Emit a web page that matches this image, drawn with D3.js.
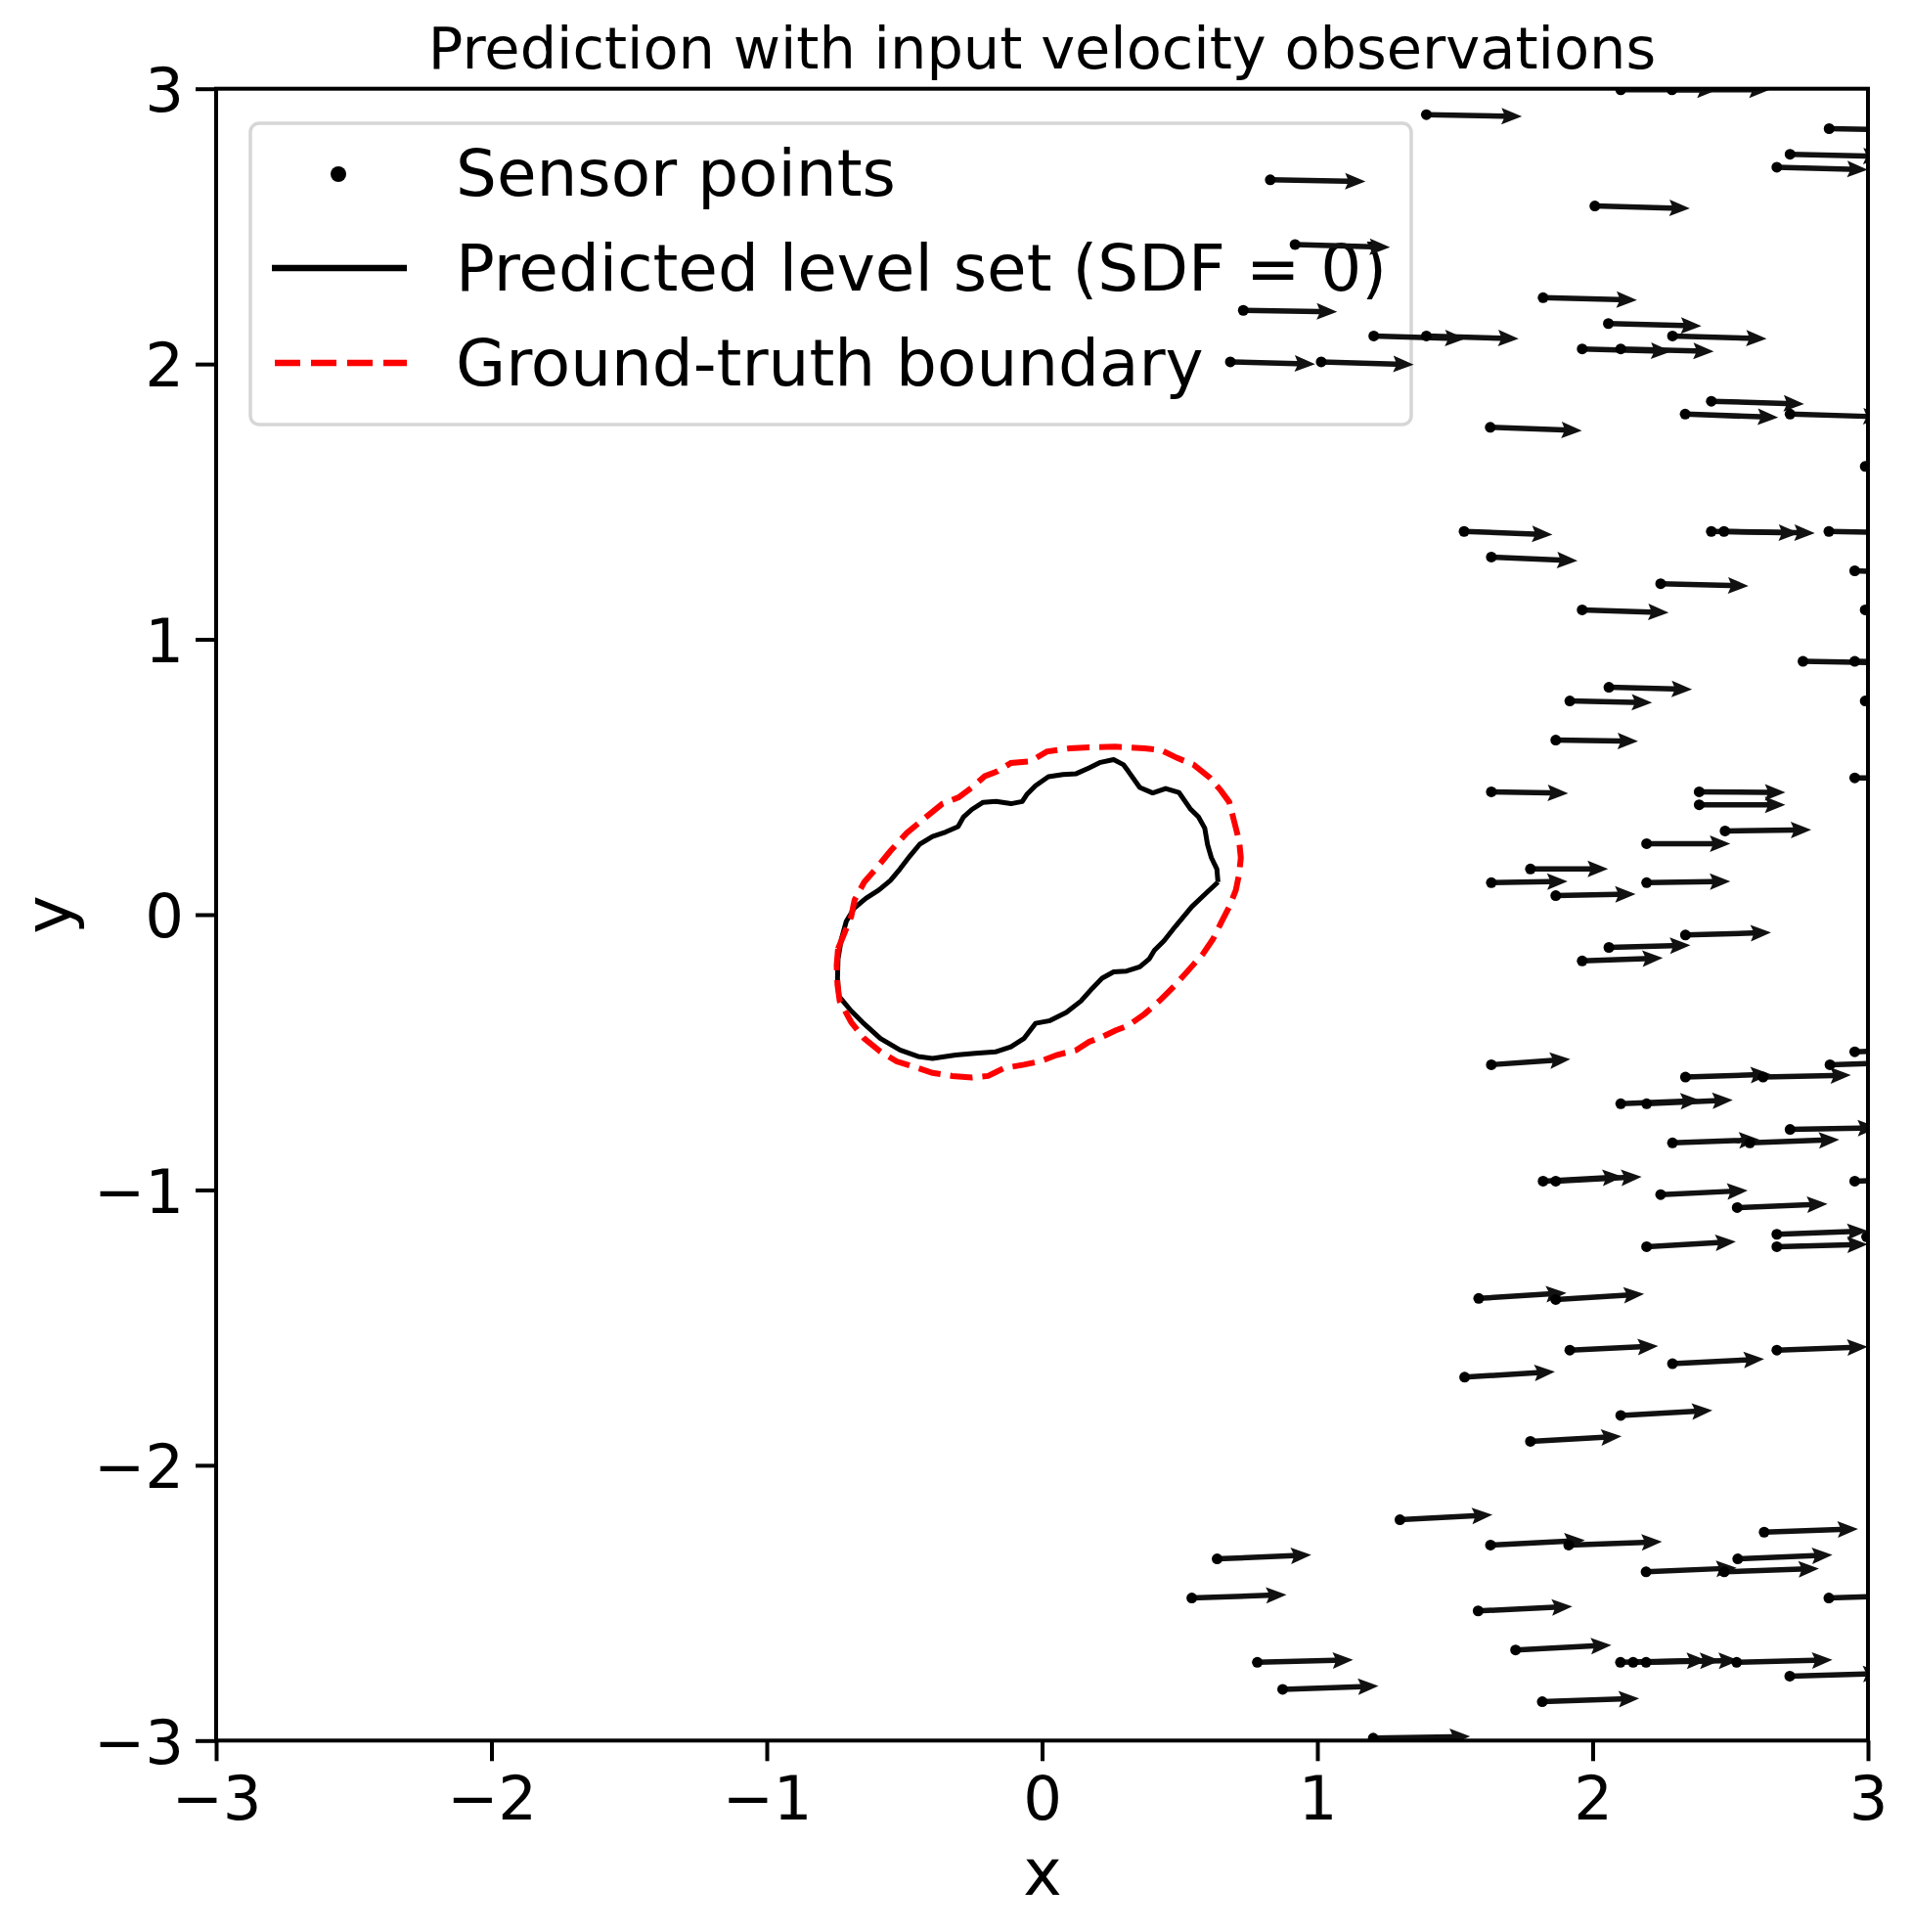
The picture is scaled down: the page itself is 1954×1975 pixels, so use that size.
<html>
<head>
<meta charset="utf-8">
<script src="https://d3js.org/d3.v7.min.js"></script>
<style>
  body { margin: 0; background: #fff; }
  text { font-family: "DejaVu Sans", sans-serif; fill: #000; }
</style>
</head>
<body>
<svg id="chart" width="1954" height="1975"></svg>
<script>
// sensor locations (tail of each arrow) and arrow components, data units
var sensorX = [1.396, 2.102, 2.288, 2.859, 2.717, 2.669, 0.829, 2.008, 0.919, 0.731,
  1.820, 2.057, 1.205, 1.396, 2.290, 0.684, 1.014, 1.962, 2.102, 2.431,
  2.336, 2.717, 1.628, 2.990, 1.533, 2.431, 2.477, 2.858, 1.632, 2.952,
  2.247, 1.962, 2.990, 2.764, 2.952, 2.059, 1.917, 2.990, 1.866, 2.952,
  1.632, 2.387, 2.387, 2.481, 2.196, 1.774, 1.632, 2.196, 1.866, 2.337,
  2.059, 1.962, 1.632, 2.952, 2.862, 2.337, 2.619, 2.102, 2.196, 2.717,
  2.290, 2.571, 1.820, 1.866, 2.952, 2.247, 2.525, 2.669, 2.669, 2.995,
  2.196, 1.586, 1.866, 1.917, 2.290, 2.669, 1.535, 2.102, 1.774, 1.300,
  0.636, 1.629, 1.913, 2.623, 2.527, 2.194, 2.478, 0.544, 1.584, 2.858,
  0.782, 1.720, 2.101, 2.147, 2.194, 2.523, 2.716, 0.874, 1.817, 1.203];
var sensorY = [2.906, 2.996, 2.996, 2.855, 2.762, 2.715, 2.669, 2.574, 2.434, 2.195,
  2.241, 2.147, 2.102, 2.102, 2.102, 2.008, 2.008, 2.055, 2.055, 1.865,
  1.818, 1.818, 1.770, 1.628, 1.392, 1.392, 1.392, 1.392, 1.299, 1.249,
  1.202, 1.107, 1.107, 0.920, 0.920, 0.826, 0.776, 0.776, 0.634, 0.497,
  0.446, 0.446, 0.399, 0.304, 0.258, 0.166, 0.116, 0.116, 0.069, -0.074,
  -0.119, -0.168, -0.545, -0.498, -0.545, -0.590, -0.590, -0.687, -0.687, -0.780,
  -0.829, -0.829, -0.968, -0.968, -0.968, -1.017, -1.064, -1.161, -1.206, -1.170,
  -1.206, -1.394, -1.398, -1.582, -1.631, -1.582, -1.680, -1.819, -1.913, -2.198,
  -2.340, -2.290, -2.290, -2.243, -2.340, -2.387, -2.387, -2.482, -2.529, -2.482,
  -2.716, -2.671, -2.716, -2.716, -2.716, -2.716, -2.766, -2.814, -2.859, -2.991];
var velU = [0.347, 0.352, 0.355, 0.340, 0.340, 0.330, 0.346, 0.345, 0.345, 0.341,
  0.341, 0.338, 0.333, 0.335, 0.342, 0.308, 0.336, 0.324, 0.338, 0.337,
  0.338, 0.340, 0.333, 0.330, 0.321, 0.319, 0.330, 0.330, 0.313, 0.330,
  0.319, 0.314, 0.320, 0.320, 0.320, 0.302, 0.299, 0.310, 0.299, 0.300,
  0.279, 0.313, 0.313, 0.313, 0.304, 0.282, 0.277, 0.304, 0.290, 0.311,
  0.296, 0.293, 0.287, 0.310, 0.310, 0.311, 0.319, 0.291, 0.313, 0.320,
  0.316, 0.325, 0.290, 0.312, 0.320, 0.316, 0.328, 0.330, 0.330, 0.330,
  0.324, 0.319, 0.321, 0.321, 0.333, 0.330, 0.328, 0.333, 0.331, 0.336,
  0.342, 0.343, 0.339, 0.341, 0.344, 0.329, 0.344, 0.344, 0.342, 0.340,
  0.348, 0.348, 0.315, 0.317, 0.338, 0.348, 0.340, 0.348, 0.352, 0.352];
var velV = [-0.007, 0.000, 0.000, -0.006, -0.008, -0.009, -0.006, -0.009, -0.010, -0.005,
  -0.009, -0.009, -0.010, -0.010, -0.010, -0.008, -0.010, -0.009, -0.009, -0.010,
  -0.012, -0.010, -0.012, -0.010, -0.012, -0.006, -0.006, -0.006, -0.014, -0.010,
  -0.008, -0.010, -0.008, -0.006, -0.006, -0.008, -0.006, -0.005, -0.004, -0.003,
  -0.005, -0.002, 0.000, 0.004, 0.000, 0.000, 0.005, 0.005, 0.006, 0.009,
  0.008, 0.011, 0.020, 0.010, 0.010, 0.010, 0.007, 0.012, 0.014, 0.006,
  0.012, 0.012, 0.016, 0.016, 0.012, 0.015, 0.013, 0.012, 0.009, 0.010,
  0.018, 0.020, 0.020, 0.015, 0.017, 0.012, 0.020, 0.018, 0.018, 0.018,
  0.014, 0.018, 0.012, 0.012, 0.014, 0.014, 0.012, 0.012, 0.016, 0.010,
  0.009, 0.018, 0.007, 0.007, 0.007, 0.009, 0.010, 0.012, 0.012, 0.006];

// predicted zero level set
var predX = [0.639, 0.635, 0.615, 0.601, 0.591, 0.568, 0.538, 0.497, 0.449, 0.402,
  0.355, 0.313, 0.295, 0.260, 0.212, 0.171, 0.124, 0.076, 0.023, -0.024,
  -0.054, -0.072, -0.113, -0.167, -0.214, -0.255, -0.285, -0.305, -0.350, -0.398,
  -0.445, -0.480, -0.516, -0.551, -0.593, -0.640, -0.682, -0.711, -0.729, -0.741,
  -0.743, -0.738, -0.693, -0.652, -0.587, -0.516, -0.451, -0.398, -0.314, -0.243,
  -0.167, -0.113, -0.066, -0.024, 0.029, 0.088, 0.141, 0.183, 0.218, 0.260,
  0.307, 0.355, 0.390, 0.408, 0.443, 0.485, 0.544, 0.597, 0.639];
var predY = [0.118, 0.166, 0.207, 0.255, 0.314, 0.355, 0.385, 0.444, 0.458, 0.442,
  0.462, 0.521, 0.545, 0.563, 0.553, 0.533, 0.512, 0.509, 0.501, 0.468,
  0.438, 0.411, 0.403, 0.411, 0.408, 0.382, 0.355, 0.320, 0.300, 0.284,
  0.255, 0.213, 0.166, 0.124, 0.089, 0.059, 0.024, -0.024, -0.089, -0.160,
  -0.231, -0.296, -0.350, -0.391, -0.450, -0.492, -0.515, -0.522, -0.510, -0.504,
  -0.498, -0.480, -0.450, -0.395, -0.385, -0.355, -0.314, -0.267, -0.231, -0.208,
  -0.205, -0.190, -0.160, -0.130, -0.095, -0.042, 0.029, 0.079, 0.118];

// ground-truth boundary
var truthX = [-0.741, -0.717, -0.693, -0.681, -0.646, -0.599, -0.551, -0.492, -0.421, -0.362,
  -0.303, -0.255, -0.208, -0.161, -0.113, -0.042, 0.017, 0.100, 0.171, 0.266,
  0.372, 0.432, 0.491, 0.550, 0.609, 0.650, 0.680, 0.698, 0.716, 0.722,
  0.716, 0.704, 0.680, 0.650, 0.621, 0.585, 0.538, 0.479, 0.432, 0.372,
  0.313, 0.266, 0.218, 0.171, 0.124, 0.053, -0.007, -0.066, -0.137, -0.196,
  -0.255, -0.326, -0.398, -0.469, -0.528, -0.587, -0.646, -0.693, -0.735, -0.743,
  -0.746, -0.741];
var truthY = [-0.124, -0.065, -0.006, 0.053, 0.118, 0.172, 0.231, 0.296, 0.355, 0.403,
  0.426, 0.462, 0.503, 0.521, 0.551, 0.557, 0.592, 0.604, 0.608, 0.610,
  0.604, 0.598, 0.569, 0.545, 0.498, 0.450, 0.409, 0.338, 0.267, 0.207,
  0.148, 0.089, 0.029, -0.030, -0.089, -0.142, -0.195, -0.261, -0.308, -0.361,
  -0.403, -0.421, -0.444, -0.462, -0.492, -0.510, -0.533, -0.545, -0.557, -0.586,
  -0.592, -0.586, -0.575, -0.551, -0.533, -0.498, -0.450, -0.391, -0.314, -0.255,
  -0.184, -0.124];

var tickValues = [-3, -2, -1, 0, 1, 2, 3];
var legendLabels = ["Sensor points", "Predicted level set (SDF = 0)", "Ground-truth boundary"];

var svg = d3.select("#chart");
var x = d3.scaleLinear().domain([-3, 3]).range([221, 1910]);
var y = d3.scaleLinear().domain([-3, 3]).range([1779.3, 90.7]);

svg.append("defs").append("clipPath").attr("id", "plotclip")
  .append("rect")
    .attr("x", x(-3)).attr("y", y(3))
    .attr("width", x(3) - x(-3)).attr("height", y(-3) - y(3));

// contours
var line = d3.line().x(function(d) { return x(d[0]); }).y(function(d) { return y(d[1]); });
var predPts = predX.map(function(v, i) { return [v, predY[i]]; });
var truthPts = truthX.map(function(v, i) { return [v, truthY[i]]; });

svg.append("path")
  .attr("d", line(predPts))
  .attr("fill", "none").attr("stroke", "#000").attr("stroke-width", 5)
  .attr("stroke-linejoin", "round");

svg.append("path")
  .attr("d", line(truthPts))
  .attr("fill", "none").attr("stroke", "#ff0000").attr("stroke-width", 6)
  .attr("stroke-dasharray", "23,10");

// legend
var lg = svg.append("g");
lg.append("rect")
  .attr("x", 256).attr("y", 126).attr("width", 1187).attr("height", 308)
  .attr("rx", 9).attr("ry", 9)
  .attr("fill", "#fff").attr("fill-opacity", 0.8)
  .attr("stroke", "#d6d6d6").attr("stroke-width", 3.5);
lg.append("circle").attr("cx", 346).attr("cy", 178).attr("r", 8).attr("fill", "#000");
lg.append("line").attr("x1", 278).attr("x2", 416).attr("y1", 274).attr("y2", 274)
  .attr("stroke", "#000").attr("stroke-width", 6.5);
lg.append("line").attr("x1", 281).attr("x2", 416).attr("y1", 371).attr("y2", 371)
  .attr("stroke", "#ff0000").attr("stroke-width", 6.5).attr("stroke-dasharray", "26,11");
lg.selectAll("text.lab").data(legendLabels).enter()
  .append("text")
    .attr("x", 466)
    .attr("y", function(d, i) { return 200 + i * 97; })
    .style("font-size", "66px")
    .text(function(d) { return d; });

// velocity arrows
var ag = svg.append("g").attr("clip-path", "url(#plotclip)");
var shaftW = 5.5, headL = 21, headW = 17;
function arrowPoly(i) {
  var x0 = x(sensorX[i]), y0 = y(sensorY[i]);
  var x1 = x(sensorX[i] + velU[i]), y1 = y(sensorY[i] + velV[i]);
  var L = Math.hypot(x1 - x0, y1 - y0);
  var ex = (x1 - x0) / L, ey = (y1 - y0) / L, nx = -ey, ny = ex;
  function p(a, b) { return [x0 + ex * a + nx * b, y0 + ey * a + ny * b]; }
  var pts = [p(0, -shaftW / 2), p(L - headL * 0.88, -shaftW / 2), p(L - headL, -headW / 2),
             p(L, 0), p(L - headL, headW / 2), p(L - headL * 0.88, shaftW / 2), p(0, shaftW / 2)];
  return pts.map(function(q) { return q.join(","); }).join(" ");
}
ag.selectAll("polygon").data(d3.range(sensorX.length)).enter()
  .append("polygon")
    .attr("points", arrowPoly)
    .attr("fill", "#111");
ag.selectAll("circle").data(d3.range(sensorX.length)).enter()
  .append("circle")
    .attr("cx", function(i) { return x(sensorX[i]); })
    .attr("cy", function(i) { return y(sensorY[i]); })
    .attr("r", 5.5)
    .attr("fill", "#000");

// axes
var fmt = d3.format("d");
var xAxis = svg.append("g")
  .attr("transform", "translate(0," + y(-3) + ")")
  .call(d3.axisBottom(x).tickValues(tickValues).tickFormat(fmt).tickSize(21).tickPadding(15));
var yAxis = svg.append("g")
  .attr("transform", "translate(" + x(-3) + ",0)")
  .call(d3.axisLeft(y).tickValues(tickValues).tickFormat(fmt).tickSize(21).tickPadding(12));
[xAxis, yAxis].forEach(function(a) {
  a.select(".domain").remove();
  a.selectAll(".tick line").attr("stroke", "#000").attr("stroke-width", 4);
  a.selectAll(".tick text").attr("fill", "#000")
    .style("font-family", "'DejaVu Sans', sans-serif").style("font-size", "62.5px");
});
yAxis.selectAll(".tick text").attr("dy", "0.365em");

svg.append("rect")
  .attr("x", x(-3)).attr("y", y(3))
  .attr("width", x(3) - x(-3)).attr("height", y(-3) - y(3))
  .attr("fill", "none").attr("stroke", "#000").attr("stroke-width", 4);

// titles
svg.append("text").attr("x", 1065.5).attr("y", 70).attr("text-anchor", "middle")
  .style("font-size", "59px").text("Prediction with input velocity observations");
svg.append("text").attr("x", 1066).attr("y", 1937).attr("text-anchor", "middle")
  .style("font-size", "66.7px").text("x");
svg.append("text").attr("transform", "translate(72,935) rotate(-90)").attr("text-anchor", "middle")
  .style("font-size", "66.7px").text("y");
</script>
</body>
</html>
